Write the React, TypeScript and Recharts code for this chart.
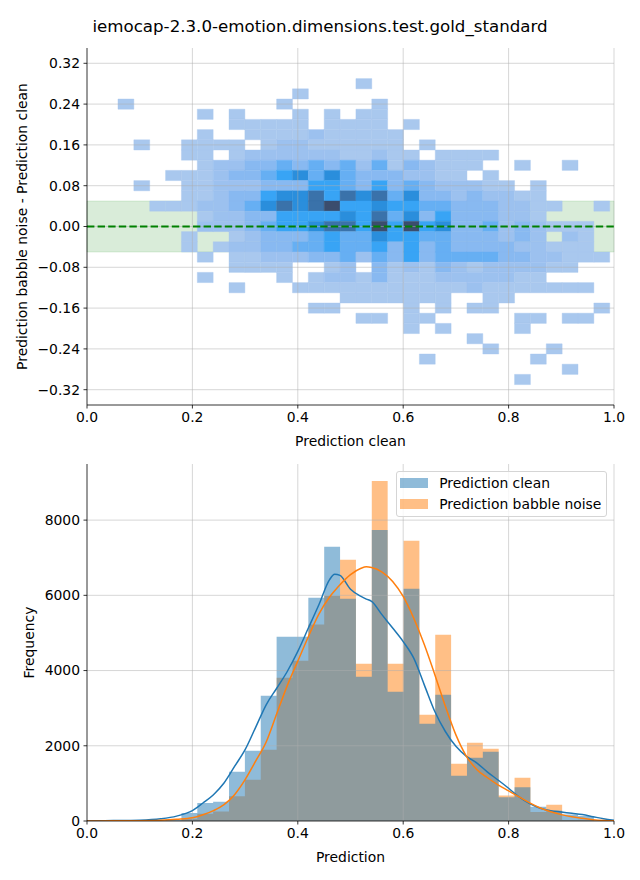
import React from 'react';
import {
  ComposedChart,
  XAxis,
  YAxis,
  ReferenceArea,
  ReferenceLine,
  Area,
  Line,
  Legend,
} from 'recharts';

const FONT = '"DejaVu Sans", sans-serif';

// ---------- text ----------
const chartTitle = 'iemocap-2.3.0-emotion.dimensions.test.gold_standard';
const topXLabel = 'Prediction clean';
const topYLabel = 'Prediction babble noise - Prediction clean';
const bottomXLabel = 'Prediction';
const bottomYLabel = 'Frequency';
const seriesNames = ['Prediction clean', 'Prediction babble noise'];

// ---------- ticks ----------
const xTicks = [0, 0.2, 0.4, 0.6, 0.8, 1.0];
const diffTicks = [-0.32, -0.24, -0.16, -0.08, 0, 0.08, 0.16, 0.24, 0.32];
const freqTicks = [0, 2000, 4000, 6000, 8000];

// ---------- shared prediction bins ----------
const binEdges = [
  0.0588, 0.0889, 0.119, 0.1491, 0.1792, 0.2093, 0.2394, 0.2695, 0.2996, 0.3297,
  0.3598, 0.3899, 0.42, 0.4501, 0.4802, 0.5103, 0.5404, 0.5705, 0.6006, 0.6307,
  0.6608, 0.6909, 0.721, 0.7511, 0.7812, 0.8113, 0.8414, 0.8715, 0.9016, 0.9317,
  0.9618, 0.9919,
];

// difference bins (bottom to top)
const diffBinEdges = [
  -0.31, -0.29, -0.27, -0.25, -0.23, -0.21, -0.19, -0.17, -0.15, -0.13, -0.11,
  -0.09, -0.07, -0.05, -0.03, -0.01, 0.01, 0.03, 0.05, 0.07, 0.09, 0.11, 0.13,
  0.15, 0.17, 0.19, 0.21, 0.23, 0.25, 0.27, 0.29,
];

// 2D histogram count class per cell: rows from top (0.28) to bottom (-0.30),
// columns follow binEdges; '.' = empty, 1..8 = increasing count
const densityRows = [
  '...............1...............',
  '...........1...................',
  '1.........1.....1..............',
  '.....1.1...1.1.11..............',
  '.......11111.1111.1............',
  '.....1..1111211111.............',
  '.1..1111.122111111.1...........',
  '....11.122222211211.1111.......',
  '.....122334343424132111..1..1..',
  '...1112334564643332211.1.......',
  '.1..112223335543534322211.1....',
  '....11233566757674633232211....',
  '..11122346767855655443332211..1',
  '.....1223355556574635333221....',
  '.....2223455677585856334232111.',
  '....1..12333454465544333232.21.',
  '....1.122334454453534333322111.',
  '.....1.112223342435344443322111',
  '.......1111..12.3121321222211..',
  '.....1....1.122131112222211....',
  '.......1...1111111111121111111.',
  '..............1111111..11......',
  '............11....1.1.11......1',
  '...............11.11.....11.11.',
  '..................1.1....1.....',
  '......................1........',
  '.......................1...1...',
  '...................1......1....',
  '............................1..',
  '.........................1.....',
];
const levelColors = [
  '#a9c8ee',
  '#9cc1ef',
  '#88b9f1',
  '#66aff3',
  '#38a4f5',
  '#2a8edc',
  '#3a72aa',
  '#3b4d6d',
];

// ---------- 1D histograms ----------
const cleanCounts = [
  0, 3, 10, 35, 210, 480, 515, 1310, 1870, 3330, 4900, 4900, 5935, 7290, 5910, 3835,
  7740, 3435, 6175, 2585, 3355, 1205, 1685, 1840, 630, 895, 380, 275, 170, 130, 20,
];
const noiseCounts = [
  0, 1, 4, 12, 60, 195, 255, 655, 1100, 1895, 3810, 4260, 5225, 5990, 6945, 4180,
  9040, 4180, 7450, 2825, 4950, 1525, 2080, 1920, 680, 1150, 240, 435, 25, 30, 10,
];

// ---------- KDE curves ----------
const kdeX = [
  0.0, 0.05, 0.1, 0.14, 0.17, 0.2, 0.22, 0.24, 0.26, 0.28, 0.3, 0.32, 0.34, 0.36, 0.38,
  0.4, 0.42, 0.44, 0.46, 0.47, 0.48, 0.5, 0.52, 0.53, 0.54, 0.56, 0.58, 0.6, 0.62, 0.64,
  0.66, 0.68, 0.7, 0.72, 0.74, 0.76, 0.78, 0.8, 0.82, 0.84, 0.86, 0.88, 0.9, 0.92, 0.94,
  0.96, 0.98, 1.0,
];
const cleanKde = [
  5, 10, 22, 60, 130, 275, 478, 700, 1010, 1450, 1895, 2490, 3090, 3530, 3975, 4510,
  5130, 5750, 6410, 6560, 6530, 6160, 5970, 5900, 5840, 5480, 5130, 4770, 4330, 3620,
  2910, 2380, 1985, 1720, 1540, 1300, 1090, 870, 640, 460, 340, 275, 240, 205, 170, 115,
  60, 20,
];
const noiseKde = [
  2, 4, 8, 20, 45, 85, 165, 275, 435, 700, 1100, 1590, 2100, 2850, 3600, 4250, 4900,
  5500, 5950, 6120, 6280, 6550, 6720, 6760, 6740, 6620, 6370, 5970, 5390, 4690, 3890,
  3050, 2290, 1720, 1365, 1150, 960, 800, 640, 480, 345, 245, 170, 110, 70, 35, 15, 5,
];

const freqMax = 9492;
const diffDomain = [-0.35, 0.35];

// ---------- derived tables ----------
type Cell = { x1: number; x2: number; y1: number; y2: number; level: number };
const cells: Cell[] = [];
densityRows.forEach((row, r) => {
  const top = diffBinEdges.length - 1 - r;
  for (let c = 0; c < binEdges.length - 1; c++) {
    const ch = row[c];
    if (!ch || ch === '.') continue;
    cells.push({
      x1: binEdges[c],
      x2: binEdges[c + 1],
      y1: diffBinEdges[top - 1],
      y2: diffBinEdges[top],
      level: Number(ch),
    });
  }
});

const histTable = (counts: number[]) =>
  binEdges.map((x, i) => ({ x, y: counts[Math.min(i, counts.length - 1)] }));
const cleanHist = histTable(cleanCounts);
const noiseHist = histTable(noiseCounts);
const cleanKdeData = kdeX.map((x, i) => ({ x, y: cleanKde[i] }));
const noiseKdeData = kdeX.map((x, i) => ({ x, y: noiseKde[i] }));

// ---------- styles ----------
const GRID = 'rgba(176,176,176,0.5)';
const BLUE = '#1f77b4';
const ORANGE = '#ff7f0e';
const axisLine = { stroke: '#000', strokeWidth: 0.8 };
const tickLine = { stroke: '#000', strokeWidth: 0.8 };
const tickStyle = { fill: '#000', fontSize: 13.9, fontFamily: FONT };

const fmtX = (v: number) => v.toFixed(1);
const fmtDiff = (v: number) => {
  const s = Math.abs(v).toFixed(2);
  return v < -1e-9 ? '\u2212' + s : s;
};

const LegendBox = () => (
  <div
    style={{
      position: 'relative',
      width: 211,
      height: 46,
      boxSizing: 'border-box',
      border: '1px solid #d5d5d5',
      borderRadius: 3,
      background: 'rgba(255,255,255,0.8)',
      fontFamily: FONT,
      fontSize: 13.9,
      color: '#000',
    }}
  >
    {seriesNames.map((name, i) => (
      <React.Fragment key={name}>
        <div
          style={{
            position: 'absolute',
            left: 3.5,
            top: 6 + i * 21,
            width: 28,
            height: 10,
            background: i === 0 ? BLUE : ORANGE,
            opacity: 0.5,
          }}
        />
        <div
          style={{
            position: 'absolute',
            left: 42.5,
            top: 2 + i * 21,
            lineHeight: '18px',
            whiteSpace: 'nowrap',
          }}
        >
          {name}
        </div>
      </React.Fragment>
    ))}
  </div>
);

export default function App() {
  return (
    <div
      style={{
        position: 'absolute',
        left: 0,
        top: 0,
        width: 640,
        height: 880,
        background: '#fff',
        fontFamily: FONT,
      }}
    >
      {/* top: 2D histogram */}
      <div style={{ position: 'absolute', left: 0, top: 0 }}>
        <ComposedChart width={640} height={450} margin={{ top: 48, right: 26, bottom: 0, left: 0 }}>
          <XAxis
            type="number"
            dataKey="x"
            domain={[0, 1]}
            allowDataOverflow
            ticks={xTicks}
            interval={0}
            tickFormatter={fmtX}
            height={45}
            tickSize={3.5}
            tickMargin={3.5}
            axisLine={axisLine}
            tickLine={tickLine}
            tick={tickStyle}
          />
          <YAxis
            type="number"
            domain={diffDomain}
            allowDataOverflow
            ticks={diffTicks}
            interval={0}
            tickFormatter={fmtDiff}
            width={87}
            tickSize={3.5}
            tickMargin={3.5}
            axisLine={axisLine}
            tickLine={tickLine}
            tick={tickStyle}
          />
          <ReferenceArea
            x1={0}
            x2={1}
            y1={-0.05}
            y2={0.05}
            fill="#008000"
            fillOpacity={0.15}
            stroke="#008000"
            strokeOpacity={0.12}
            strokeWidth={1}
          />
          {cells.map((c, i) => (
            <ReferenceArea
              key={'c' + i}
              x1={c.x1}
              x2={c.x2}
              y1={c.y1}
              y2={c.y2}
              fill={levelColors[c.level - 1]}
              fillOpacity={1}
              stroke={levelColors[c.level - 1]}
              strokeWidth={0.4}
            />
          ))}
          {xTicks.slice(1).map((v) => (
            <ReferenceLine key={'gx' + v} x={v} stroke={GRID} strokeWidth={1} />
          ))}
          {diffTicks.map((v) => (
            <ReferenceLine key={'gy' + v} y={v} stroke={GRID} strokeWidth={1} />
          ))}
          <ReferenceLine y={0} stroke="#008000" strokeWidth={2} strokeDasharray="7.4 3.2" />
        </ComposedChart>
      </div>

      {/* bottom: histograms + kde */}
      <div style={{ position: 'absolute', left: 0, top: 450 }}>
        <ComposedChart width={640} height={430} margin={{ top: 14, right: 26, bottom: 0, left: 0 }}>
          <XAxis
            type="number"
            dataKey="x"
            domain={[0, 1]}
            allowDataOverflow
            ticks={xTicks}
            interval={0}
            tickFormatter={fmtX}
            height={59}
            tickSize={3.5}
            tickMargin={3.5}
            axisLine={axisLine}
            tickLine={tickLine}
            tick={tickStyle}
          />
          <YAxis
            type="number"
            domain={[0, freqMax]}
            allowDataOverflow
            ticks={freqTicks}
            interval={0}
            width={87}
            tickSize={3.5}
            tickMargin={3.5}
            axisLine={axisLine}
            tickLine={tickLine}
            tick={tickStyle}
          />
          {xTicks.slice(1).map((v) => (
            <ReferenceLine key={'bx' + v} x={v} stroke={GRID} strokeWidth={1} />
          ))}
          {freqTicks.slice(1).map((v) => (
            <ReferenceLine key={'by' + v} y={v} stroke={GRID} strokeWidth={1} />
          ))}
          <Area
            data={noiseHist}
            dataKey="y"
            name={seriesNames[1]}
            type="stepAfter"
            fill={ORANGE}
            fillOpacity={0.5}
            stroke="none"
            isAnimationActive={false}
          />
          <Area
            data={cleanHist}
            dataKey="y"
            name={seriesNames[0]}
            type="stepAfter"
            fill={BLUE}
            fillOpacity={0.5}
            stroke="none"
            isAnimationActive={false}
          />
          <Line
            data={cleanKdeData}
            dataKey="y"
            type="monotone"
            stroke={BLUE}
            strokeWidth={1.5}
            dot={false}
            activeDot={false}
            isAnimationActive={false}
            legendType="none"
          />
          <Line
            data={noiseKdeData}
            dataKey="y"
            type="monotone"
            stroke={ORANGE}
            strokeWidth={1.5}
            dot={false}
            activeDot={false}
            isAnimationActive={false}
            legendType="none"
          />
          <Legend
            layout="vertical"
            align="center"
            verticalAlign="middle"
            content={() => <LegendBox />}
            wrapperStyle={{ position: 'absolute', top: 21, left: 395.7, width: 211, height: 46, margin: 0 }}
          />
        </ComposedChart>
      </div>

      {/* titles and axis labels */}
      <svg
        width={640}
        height={880}
        style={{ position: 'absolute', left: 0, top: 0, pointerEvents: 'none' }}
        fontFamily={FONT}
        fill="#000"
      >
        <text x={320} y={32} textAnchor="middle" fontSize={16.67}>
          {chartTitle}
        </text>
        <text x={350.5} y={446} textAnchor="middle" fontSize={13.9}>
          {topXLabel}
        </text>
        <text transform="translate(27,226.5) rotate(-90)" textAnchor="middle" fontSize={13.9}>
          {topYLabel}
        </text>
        <text x={350.5} y={862} textAnchor="middle" fontSize={13.9}>
          {bottomXLabel}
        </text>
        <text transform="translate(34,642.5) rotate(-90)" textAnchor="middle" fontSize={13.9}>
          {bottomYLabel}
        </text>
      </svg>
    </div>
  );
}
